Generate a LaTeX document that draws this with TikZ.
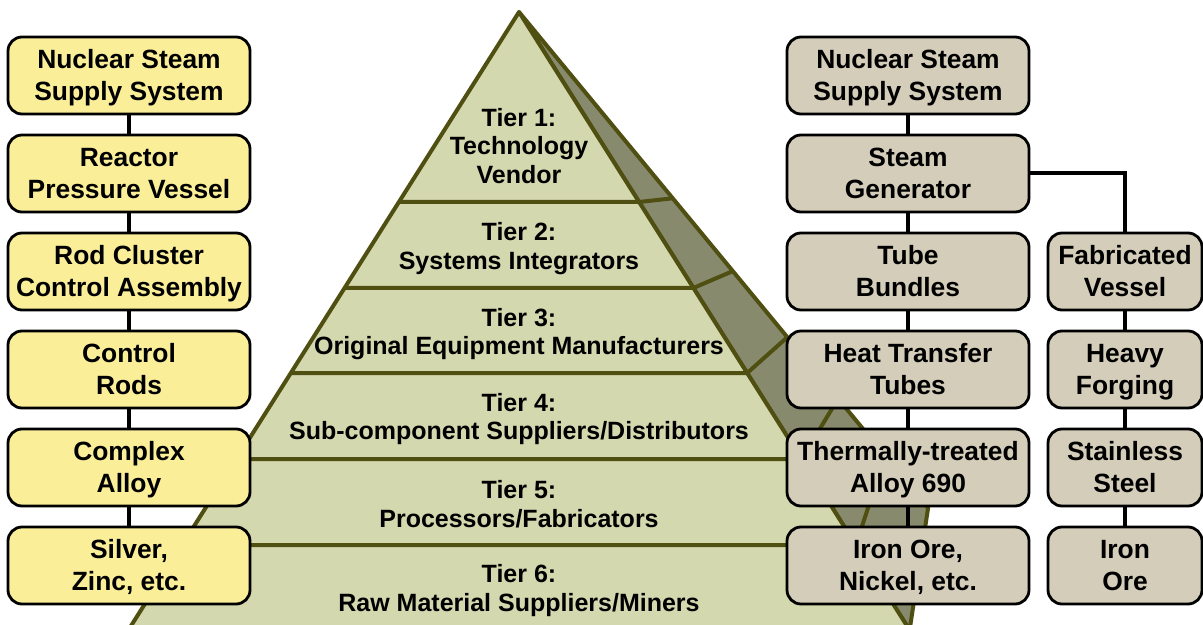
\documentclass[tikz,border=0pt]{standalone}
\usepackage{fontspec}
\setmainfont{Liberation Sans}
\definecolor{pline}{HTML}{4F4F12}
\definecolor{pfront}{HTML}{D3D8AE}
\definecolor{pside}{HTML}{878A6C}
\definecolor{ybox}{HTML}{FBEE99}
\definecolor{gbox}{HTML}{D4CDBA}
\newcommand\firstline{\rule{0pt}{12pt}}
\begin{document}
\begin{tikzpicture}[x=0.5pt,y=-0.5pt,
  box/.style={draw=black, line width=1.4pt, rounded corners=7pt, minimum height=38.5pt,
    align=center, font=\fontsize{13.2}{16}\selectfont\bfseries, text=black, inner sep=1pt,
    execute at end node={\rule[-3pt]{0pt}{3pt}}},
  ybx/.style={box, fill=ybox, minimum width=121pt},
  gbx/.style={box, fill=gbox, minimum width=121pt},
  gbxs/.style={box, fill=gbox, minimum width=77pt},
  tier/.style={align=center, font=\fontsize{12.5}{14.4}\selectfont\bfseries, text=black},
  conn/.style={line width=2pt, black},
  pl/.style={draw=pline, line width=2pt, line join=round}]
\useasboundingbox (0,0) rectangle (1203,625);
\fill[white] (0,0) rectangle (1203,625);
\clip (0,0) rectangle (1203,625);
% pyramid geometry
\coordinate (apex) at (519,12);
\coordinate (bl) at (128.4,630);
\coordinate (br) at (909.6,630);
\coordinate (ob) at (928.1,507.8);
\coordinate (L1) at (398.9,202); \coordinate (F1) at (639.1,202); \coordinate (O1) at (672.7,198.3);
\coordinate (L2) at (344.6,288); \coordinate (F2) at (693.4,288); \coordinate (O2) at (732.8,271.1);
\coordinate (L3) at (290.8,373); \coordinate (F3) at (747.2,373); \coordinate (O3) at (787.3,337.2);
\coordinate (L4) at (236.5,459); \coordinate (F4) at (801.5,459); \coordinate (O4) at (838.1,398.7);
\coordinate (L5) at (182.1,545); \coordinate (F5) at (855.9,545); \coordinate (O5) at (885.1,455.7);
\filldraw[pl, fill=pside] (apex) -- (ob) -- (br) -- cycle;
\filldraw[pl, fill=pfront] (apex) -- (bl) -- (br) -- cycle;
\foreach \i in {1,...,5} { \draw[pl] (L\i) -- (F\i) -- (O\i); }
% tier labels
\node[tier] (t1) at (519,146) {Tier 1:\\Technology\\Vendor};
\node[tier] (t2) at (519,248.5) {Tier 2:\\Systems Integrators};
\node[tier] (t3) at (519,334) {Tier 3:\\Original Equipment Manufacturers};
\node[tier] (t4) at (519,419) {Tier 4:\\Sub-component Suppliers/Distributors};
\node[tier] (t5) at (519,504) {Tier 5:\\Processors/Fabricators};
\node[tier] (t6) at (519,590.5) {Tier 6:\\Raw Material Suppliers/Miners};
% left column
\node[ybx] (l1) at (129,75.5) {\firstline Nuclear Steam\\Supply System};
\node[ybx] (l2) at (129,173.5) {\firstline Reactor\\Pressure Vessel};
\node[ybx] (l3) at (129,271.5) {\firstline Rod Cluster\\Control Assembly};
\node[ybx] (l4) at (129,369.5) {\firstline Control\\Rods};
\node[ybx] (l5) at (129,467.5) {\firstline Complex\\Alloy};
\node[ybx] (l6) at (129,565.5) {\firstline Silver,\\Zinc, etc.};
% right columns
\node[gbx] (r1) at (908,75.5) {\firstline Nuclear Steam\\Supply System};
\node[gbx] (r2) at (908,173.5) {\firstline Steam\\Generator};
\node[gbx] (r3) at (908,271.5) {\firstline Tube\\Bundles};
\node[gbx] (r4) at (908,369.5) {\firstline Heat Transfer\\Tubes};
\node[gbx] (r5) at (908,467.5) {\firstline Thermally-treated\\Alloy 690};
\node[gbx] (r6) at (908,565.5) {\firstline Iron Ore,\\Nickel, etc.};
\node[gbxs] (s3) at (1125,271.5) {\firstline Fabricated\\Vessel};
\node[gbxs] (s4) at (1125,369.5) {\firstline Heavy\\Forging};
\node[gbxs] (s5) at (1125,467.5) {\firstline Stainless\\Steel};
\node[gbxs] (s6) at (1125,565.5) {\firstline Iron\\Ore};
% connectors
\foreach \a/\b in {l1/l2,l2/l3,l3/l4,l4/l5,l5/l6,r1/r2,r2/r3,r3/r4,r4/r5,r5/r6,s3/s4,s4/s5,s5/s6}
  { \draw[conn] (\a.south) -- (\b.north); }
\draw[conn] (r2.east) -| (s3.north);
\end{tikzpicture}
\end{document}
